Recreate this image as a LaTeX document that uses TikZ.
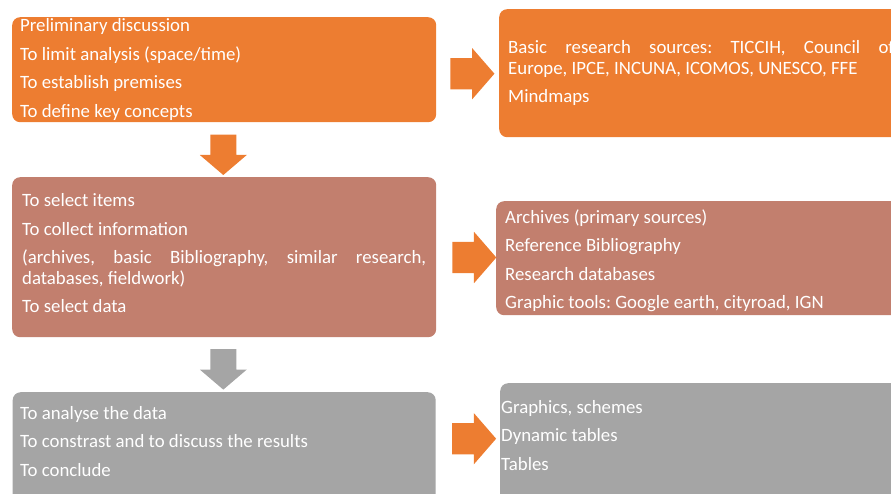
\documentclass[tikz,border=0pt]{standalone}
\usepackage{fontspec}
\setmainfont{Carlito}
\usetikzlibrary{shapes.arrows}

\definecolor{accorange}{HTML}{ED7D31}
\definecolor{accbrown}{HTML}{C27F6E}
\definecolor{accgray}{HTML}{A5A5A5}

% paragraph gap between the items of a panel
\newcommand{\itemgap}{\setlength{\parskip}{8pt}\frenchspacing}

\begin{document}
\begin{tikzpicture}[x=1pt, y=-1pt,
  panel/.style={rounded corners=8pt, inner sep=0pt, anchor=north west, draw=none},
  body/.style={anchor=base west, inner sep=0pt, text=white, align=justify,
    font=\fontsize{18.8}{20.5}\selectfont},
  rightarrow/.style={single arrow, fill=accorange, draw=none, inner xsep=0pt,
    inner ysep=15.5pt, single arrow head extend=10pt, single arrow tip angle=98,
    minimum height=44pt},
  downarrow/.style={single arrow, draw=none, inner xsep=0pt, rotate=-90,
    inner ysep=12.85pt, single arrow head extend=10.5pt, single arrow tip angle=99,
    minimum height=40.5pt}
]
\useasboundingbox (0,0) rectangle (891,493);
\clip (0,0) rectangle (891,493);

% ---- panels ----
\node[panel, fill=accorange, minimum width=424pt, minimum height=105pt] (p1) at (12,17) {};
\node[panel, fill=accorange, minimum width=420pt, minimum height=128pt] (q1) at (499,9) {};
\node[panel, fill=accbrown, minimum width=424pt, minimum height=160pt] (p2) at (12,177) {};
\node[panel, fill=accbrown, minimum width=420pt, minimum height=114pt] (q2) at (496,201) {};
\node[panel, fill=accgray, minimum width=423pt, minimum height=130pt] (p3) at (12.5,392) {};
\node[panel, fill=accgray, minimum width=420pt, minimum height=140pt] (q3) at (500,383) {};

% ---- texts ----
\node[body, text width=410pt] (t1) at (20,31.7) {\itemgap
  Preliminary discussion\par
  To limit analysis (space/time)\par
  To establish premises\par
  To define key concepts};
\node[body, text width=386pt] (u1) at (508,53.5) {\itemgap
  Basic research sources: TICCIH, Council of\linebreak
  Europe, IPCE, INCUNA, ICOMOS, UNESCO, FFE\par
  Mindmaps};
\node[body, text width=404pt] (t2) at (22,206.7) {\itemgap
  To select items\par
  To collect information\par
  (archives, basic Bibliography, similar research,\linebreak
  databases, fieldwork)\par
  To select data};
\node[body, text width=380pt] (u2) at (505,223.3) {\itemgap
  Archives (primary sources)\par
  Reference Bibliography\par
  Research databases\par
  Graphic tools: Google earth, cityroad, IGN};
\node[body, text width=400pt] (t3) at (20,419.3) {\itemgap
  To analyse the data\par
  To constrast and to discuss the results\par
  To conclude};
\node[body, text width=380pt] (u3) at (501,413.3) {\itemgap
  Graphics, schemes\par
  Dynamic tables\par
  Tables};

% ---- block arrows ----
\node[rightarrow] (r1) at (465.6,73.7) {};
\node[rightarrow] (r2) at (467.5,257.5) {};
\node[rightarrow] (r3) at (467.3,438.7) {};
\node[downarrow, fill=accorange] (d1) at (223.3,149.2) {};
\node[downarrow, fill=accgray] (d2) at (223.3,363.8) {};
\end{tikzpicture}
\end{document}
